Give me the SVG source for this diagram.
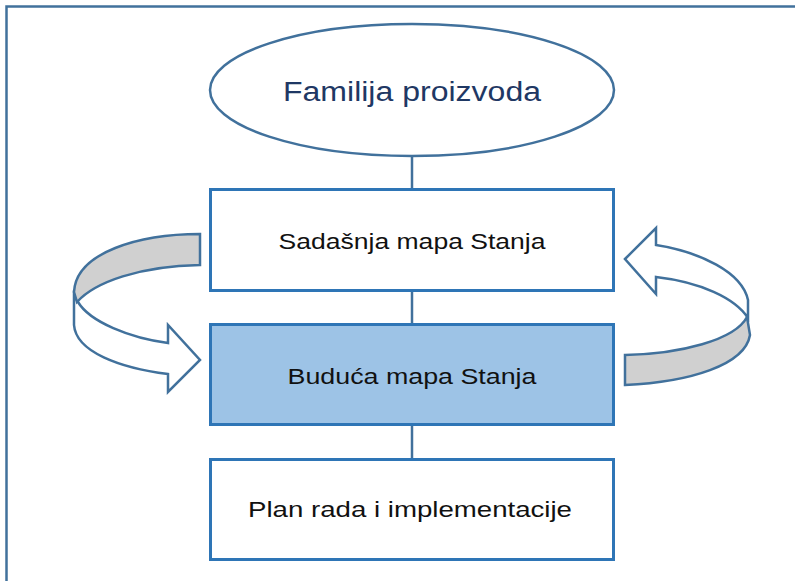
<svg xmlns="http://www.w3.org/2000/svg" width="795" height="581" viewBox="0 0 795 581">
<style>
.frame{fill:none;stroke:#41719c;stroke-width:2.5}
.box{fill:#ffffff;stroke:#2e75b6;stroke-width:3}
.fut{fill:#9dc3e6}
.ell{fill:#ffffff;stroke:#41719c;stroke-width:2.5}
.conn{stroke:#41719c;stroke-width:2.5;fill:none}
.arw{stroke:#41719c;stroke-width:2.5;stroke-linejoin:miter}
.white{fill:#ffffff}
.gray{fill:#d0d0d0}
.t{font-family:"Liberation Sans",Arial,sans-serif;font-size:22px;fill:#111111;text-anchor:middle}
.title{font-family:"Liberation Sans",Arial,sans-serif;font-size:27px;fill:#1f3864;text-anchor:middle}
</style>
<rect width="795" height="581" fill="#ffffff"/>
<rect class="frame" x="6.5" y="6.5" width="800" height="590"/>
<g id="connectors">
<line class="conn" x1="412" y1="156" x2="412" y2="189"/>
<line class="conn" x1="412" y1="291" x2="412" y2="324"/>
<line class="conn" x1="412" y1="425" x2="412" y2="459"/>
</g>
<g id="node-familija">
<ellipse class="ell" cx="412" cy="90" rx="202" ry="66"/>
<text class="title" x="412" y="101" textLength="258" lengthAdjust="spacingAndGlyphs">Familija proizvoda</text>
</g>
<g id="node-sadasnja">
<rect class="box" x="210.5" y="189.5" width="403" height="101"/>
<text class="t" x="412" y="249" textLength="267" lengthAdjust="spacingAndGlyphs">Sadašnja mapa Stanja</text>
</g>
<g id="node-buduca">
<rect class="box fut" x="210.5" y="324.5" width="403" height="100"/>
<text class="t" x="412" y="384" textLength="249" lengthAdjust="spacingAndGlyphs">Buduća mapa Stanja</text>
</g>
<g id="node-plan">
<rect class="box" x="210.5" y="459.5" width="403" height="100"/>
<text class="t" x="410" y="517" textLength="324" lengthAdjust="spacingAndGlyphs">Plan rada i implementacije</text>
</g>
<g id="arrow-left">
<path class="arw white" d="M78,302 C90,322 130,338 168,343 L168,325 L200,360 L168,392 L168,374 C120,368 76,352 74,325 L74,295 Z"/>
<path class="arw gray" d="M200,234 C140,234 76,252 74,292 L77,302 C95,282 140,266 200,265 Z"/>
</g>
<g id="arrow-right">
<path class="arw white" d="M625,259 L656,228 L656,245 C700,252 742,272 748,300 L748,318 C735,298 700,282 656,277 L656,294 Z"/>
<path class="arw gray" d="M625,355 C680,354 735,340 747,317 L750,335 C745,365 690,382 625,385 Z"/>
</g>
</svg>
